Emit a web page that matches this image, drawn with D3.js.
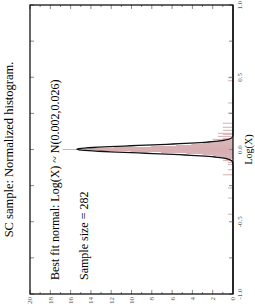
<!doctype html>
<html lang="en">
  <head>
    <meta charset="UTF-8"/>
    <title>SC sample</title>
    <script src="https://cdnjs.cloudflare.com/ajax/libs/d3/7.8.5/d3.min.js"></script>
    <style>
      body { margin: 0; background: #fff; }
      text { font-family: "Liberation Serif", "DejaVu Serif", serif; }
    </style>
  </head>
  <body>
    <div id="chart"></div>
    <script>
      // histogram bins (centre of bin in Log(X), normalized density)
      var binWidth = 0.007;
      var binCentres = [
        -0.448, -0.336, -0.266, -0.175, -0.14, -0.105, -0.091, -0.077, -0.063, -0.056,
        -0.049, -0.042, -0.035, -0.028, -0.021, -0.014, -0.007, 0,
        0.007, 0.014, 0.021, 0.028, 0.035, 0.042, 0.049, 0.056, 0.063, 0.07,
        0.077, 0.091, 0.105, 0.112, 0.133, 0.154, 0.182, 0.252, 0.322, 0.476, 0.497
      ];
      var densities = [
        0.5, 0.5, 0.5, 1.0, 0.5, 0.5, 0.5, 1.0, 1.0, 1.0,
        1.5, 2.0, 3.0, 4.6, 7.1, 10.1, 13.2, 16.8,
        14.2, 11.7, 8.1, 5.6, 4.1, 3.0, 2.5, 2.0, 1.5, 2.0,
        1.0, 1.5, 1.0, 1.5, 1.0, 1.0, 1.0, 0.5, 0.5, 0.5, 0.5
      ];
      var fitMean = 0.002, fitSd = 0.026;
      var sampleSize = 282;
      var densityTicks = [0, 2, 4, 6, 8, 10, 12, 14, 16, 18, 20];
      var logTicks = [-1.0, -0.5, 0.0, 0.5, 1.0];

      var W = 255, H = 307;
      var pLeft = 30, pRight = 233, pTop = 5, pBottom = 294;

      var svg = d3.select("#chart").append("svg")
          .attr("width", W).attr("height", H);

      // chart is drawn rotated: Log(X) runs up the page, density runs right-to-left
      var x = d3.scaleLinear().domain([0, 20]).range([pRight, pLeft]);
      var y = d3.scaleLinear().domain([-1, 1]).range([pBottom, pTop]);

      var bins = binCentres.map((c, i) => ({c: c, d: densities[i]}));

      svg.append("g").selectAll("rect")
        .data(bins)
        .enter().append("rect")
        .attr("x", d => x(d.d))
        .attr("y", d => y(d.c + binWidth / 2))
        .attr("width", d => x(0) - x(d.d))
        .attr("height", d => y(d.c - binWidth / 2) - y(d.c + binWidth / 2))
        .attr("fill", "#d7afb2");

      // fitted normal curve
      var pts = d3.range(-1, 1.0001, 0.002);
      var pdf = v => Math.exp(-0.5 * Math.pow((v - fitMean) / fitSd, 2)) / (fitSd * Math.sqrt(2 * Math.PI));
      svg.append("path")
        .datum(pts)
        .attr("fill", "none")
        .attr("stroke", "#111")
        .attr("stroke-width", 1.3)
        .attr("d", d3.line().x(v => x(pdf(v))).y(v => y(v)));

      // ticks
      var tickCol = "#888";
      var minorD = d3.range(0, 21, 1);
      var minorL = d3.range(-1, 1.001, 0.25);
      var tk = svg.append("g").attr("stroke", tickCol).attr("stroke-width", 1);
      minorD.forEach(v => {
        var len = v % 2 === 0 ? 4 : 2;
        tk.append("line").attr("x1", x(v)).attr("x2", x(v)).attr("y1", pBottom).attr("y2", pBottom - len);
        tk.append("line").attr("x1", x(v)).attr("x2", x(v)).attr("y1", pTop).attr("y2", pTop + len);
      });
      minorL.forEach(v => {
        tk.append("line").attr("y1", y(v)).attr("y2", y(v)).attr("x1", pRight).attr("x2", pRight - 4);
        tk.append("line").attr("y1", y(v)).attr("y2", y(v)).attr("x1", pLeft).attr("x2", pLeft + 4);
      });

      // frame
      svg.append("rect")
        .attr("x", pLeft).attr("y", pTop)
        .attr("width", pRight - pLeft).attr("height", pBottom - pTop)
        .attr("fill", "none").attr("stroke", "#000").attr("stroke-width", 1.2);

      // tick labels
      svg.append("g").selectAll("text")
        .data(densityTicks)
        .enter().append("text")
        .attr("transform", d => "translate(" + x(d) + "," + (pBottom + 3) + ") rotate(-90)")
        .attr("text-anchor", "end")
        .attr("dy", "0.35em")
        .attr("font-size", 7)
        .attr("fill", "#555")
        .text(d => d);

      svg.append("g").selectAll("text")
        .data(logTicks)
        .enter().append("text")
        .attr("transform", d => "translate(" + (pRight + 7) + "," + y(d) + ") rotate(-90)")
        .attr("text-anchor", "middle")
        .attr("dy", "0.35em")
        .attr("font-size", 7)
        .attr("fill", "#555")
        .text(d => d.toFixed(1));

      svg.append("text")
        .attr("transform", "translate(" + (pRight + 15) + "," + y(0) + ") rotate(-90)")
        .attr("text-anchor", "middle")
        .attr("dy", "0.35em")
        .attr("font-size", 10)
        .text("Log(X)");

      // title and notes
      svg.append("text")
        .attr("transform", "translate(9," + ((pTop + pBottom) / 2) + ") rotate(-90)")
        .attr("text-anchor", "middle")
        .attr("dy", "0.35em")
        .attr("font-size", 12.5)
        .text("SC sample: Normalized histogram.");

      svg.append("text")
        .attr("transform", "translate(55,280) rotate(-90)")
        .attr("dy", "0.35em")
        .attr("font-size", 12)
        .text("Best fit normal: Log(X) ~ N(" + fitMean + "," + fitSd + ")");

      svg.append("text")
        .attr("transform", "translate(84,280) rotate(-90)")
        .attr("dy", "0.35em")
        .attr("font-size", 12)
        .text("Sample size = " + sampleSize);
    </script>
  </body>
</html>
